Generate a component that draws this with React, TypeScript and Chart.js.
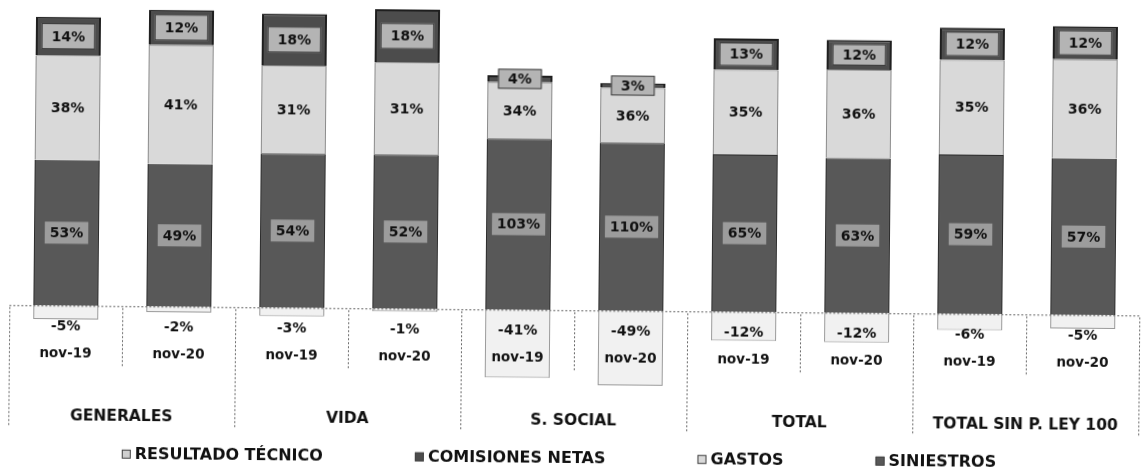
import React, { useEffect, useRef } from "react";
import { Chart, registerables } from "chart.js";

Chart.register(...registerables);

const periods = ["nov-19", "nov-20", "nov-19", "nov-20", "nov-19", "nov-20", "nov-19", "nov-20", "nov-19", "nov-20"];
const groups = ["GENERALES", "VIDA", "S. SOCIAL", "TOTAL", "TOTAL SIN P. LEY 100"];

const siniestros = [53, 49, 54, 52, 103, 110, 65, 63, 59, 57];
const gastos = [38, 41, 31, 31, 34, 36, 35, 36, 35, 36];
const comisiones = [14, 12, 18, 18, 4, 3, 13, 12, 12, 12];
const resultado = [-5, -2, -3, -1, -41, -49, -12, -12, -6, -5];

const legendOrder = ["RESULTADO TÉCNICO", "COMISIONES NETAS", "GASTOS", "SINIESTROS"];

const FONT = "'DejaVu Sans', sans-serif";

const totals = periods.map(
  (_, i) => Math.abs(siniestros[i]) + Math.abs(gastos[i]) + Math.abs(comisiones[i]) + Math.abs(resultado[i])
);
const norm = (arr: number[]) => arr.map((v, i) => (v / totals[i]) * 100);

const series = [
  { key: "sin", label: "SINIESTROS", raw: siniestros, fill: "#585858", border: "#2a2a2a" },
  { key: "gas", label: "GASTOS", raw: gastos, fill: "#d9d9d9", border: "#8a8a8a" },
  { key: "com", label: "COMISIONES NETAS", raw: comisiones, fill: "#4c4c4c", border: "#1e1e1e" },
  { key: "res", label: "RESULTADO TÉCNICO", raw: resultado, fill: "#f1f1f1", border: "#9a9a9a" },
];

const overlayPlugin = {
  id: "overlay",
  afterDatasetsDraw(chart: any) {
    const ctx = chart.ctx as CanvasRenderingContext2D;
    const x = chart.scales.x;
    const y = chart.scales.y;
    const area = chart.chartArea;
    const zeroY = y.getPixelForValue(0);
    ctx.save();

    // axis line
    ctx.strokeStyle = "#666";
    ctx.lineWidth = 1;
    ctx.setLineDash([2, 2]);
    ctx.beginPath();
    ctx.moveTo(area.left, zeroY + 0.5);
    ctx.lineTo(area.right, zeroY + 0.5);
    ctx.stroke();

    // separators
    const step = x.getPixelForValue(1) - x.getPixelForValue(0);
    for (let i = 0; i <= periods.length; i++) {
      const px = Math.round(x.getPixelForValue(0) - step / 2 + i * step) + 0.5;
      const isGroup = i % 2 === 0;
      ctx.beginPath();
      ctx.moveTo(px, zeroY + 2);
      ctx.lineTo(px, zeroY + (isGroup ? 120 : 62));
      ctx.stroke();
    }
    ctx.setLineDash([]);

    // segment labels
    ctx.textAlign = "center";
    ctx.textBaseline = "middle";
    ctx.font = `bold 14px ${FONT}`;
    chart.data.datasets.forEach((ds: any, di: number) => {
      const meta = chart.getDatasetMeta(di);
      const s = series[di];
      meta.data.forEach((el: any, i: number) => {
        const p = el.getProps(["x", "y", "base", "width"], true);
        const txt = `${s.raw[i]}%`;
        const tw = ctx.measureText(txt).width;
        const top = Math.min(p.y, p.base);
        const bot = Math.max(p.y, p.base);
        const cy = (top + bot) / 2;
        if (s.key === "com") {
          const bw = Math.min(p.width - 10, tw + 20);
          const segH = bot - top;
          const bh = Math.max(20, Math.min(segH - 8, 26));
          ctx.fillStyle = "#b4b4b4";
          ctx.fillRect(p.x - bw / 2, cy - bh / 2, bw, bh);
          ctx.strokeStyle = "#3a3a3a";
          ctx.lineWidth = 1;
          ctx.strokeRect(p.x - bw / 2 + 0.5, cy - bh / 2 + 0.5, bw - 1, bh - 1);
          ctx.fillStyle = "#111";
          ctx.fillText(txt, p.x, cy + 1);
        } else if (s.key === "sin") {
          const bw = tw + 10;
          const bh = 22;
          ctx.fillStyle = "#9c9c9c";
          ctx.fillRect(p.x - bw / 2, cy - bh / 2, bw, bh);
          ctx.fillStyle = "#111";
          ctx.fillText(txt, p.x, cy + 1);
        } else if (s.key === "gas") {
          ctx.fillStyle = "#111";
          ctx.fillText(txt, p.x, cy + 1);
        } else {
          ctx.fillStyle = "#111";
          ctx.fillText(txt, p.x, zeroY + 21);
        }
      });
    });

    // period labels
    ctx.fillStyle = "#111";
    ctx.font = `bold 13.5px ${FONT}`;
    periods.forEach((lab, i) => {
      ctx.fillText(lab, x.getPixelForValue(i), zeroY + 48);
    });

    // group labels
    ctx.font = `bold 15.5px ${FONT}`;
    groups.forEach((g, gi) => {
      const cx = (x.getPixelForValue(gi * 2) + x.getPixelForValue(gi * 2 + 1)) / 2;
      ctx.fillText(g, cx, zeroY + 111);
    });

    // legend
    ctx.font = `bold 16px ${FONT}`;
    ctx.textAlign = "left";
    const marker = 9;
    const gap = 92;
    const items = legendOrder.map((lab) => {
      const s = series.find((q) => q.label === lab)!;
      return { lab, s, w: marker + 4 + ctx.measureText(lab).width };
    });
    const totalW = items.reduce((a, it) => a + it.w, 0) + gap * (items.length - 1);
    let lx = 561 - totalW / 2;
    const ly = zeroY + 148;
    items.forEach((it) => {
      ctx.fillStyle = it.s.key === "res" ? "#cfcfcf" : it.s.fill;
      ctx.fillRect(lx, ly - marker / 2, marker, marker);
      ctx.strokeStyle = "#444";
      ctx.lineWidth = 1;
      ctx.strokeRect(lx + 0.5, ly - marker / 2 + 0.5, marker - 1, marker - 1);
      ctx.fillStyle = "#111";
      ctx.fillText(it.lab, lx + marker + 4, ly + 1);
      lx += it.w + gap;
    });

    ctx.restore();
  },
};

export default function App() {
  const ref = useRef<HTMLCanvasElement | null>(null);
  useEffect(() => {
    if (!ref.current) return;
    const chart = new Chart(ref.current, {
      type: "bar",
      data: {
        labels: periods,
        datasets: series.map((s) => ({
          label: s.label,
          data: norm(s.raw),
          backgroundColor: s.fill,
          borderColor: s.border,
          borderWidth: s.key === "com" ? 2 : 1,
          stack: "a",
          barPercentage: 0.575,
          categoryPercentage: 1,
        })),
      },
      options: {
        responsive: false,
        maintainAspectRatio: false,
        devicePixelRatio: 1,
        animation: false,
        layout: { padding: { left: 10, right: 7, top: 8, bottom: 68 } },
        plugins: { legend: { display: false }, tooltip: { enabled: false } },
        scales: {
          x: { display: false, stacked: true },
          y: { display: false, stacked: true, min: -32, max: 100 },
        },
      },
      plugins: [overlayPlugin],
    });
    return () => chart.destroy();
  }, []);
  return (
    <div style={{ position: "fixed", left: 0, top: 0, width: 1147, height: 475, overflow: "hidden", background: "#fff" }}>
      <canvas
        ref={ref}
        width={1147}
        height={475}
        style={{ display: "block", width: 1147, height: 475, transform: "rotate(0.53deg)", transformOrigin: "573.5px 237.5px" }}
      />
    </div>
  );
}
